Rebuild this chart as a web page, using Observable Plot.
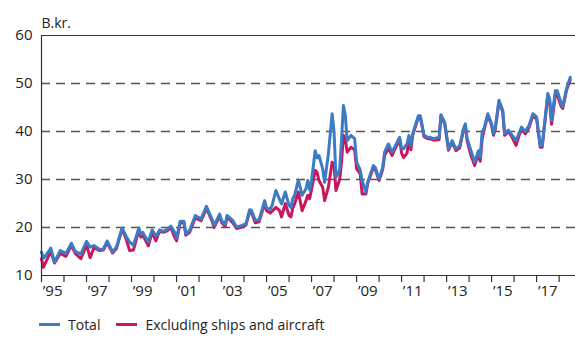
<!DOCTYPE html>
<html>
<head>
<meta charset="utf-8">
<script src="https://cdn.jsdelivr.net/npm/d3@7"></script>
<script src="https://cdn.jsdelivr.net/npm/@observablehq/plot@0.6"></script>
<style>
  body { margin: 0; background: #fff; font-family: "Open Sans", sans-serif; color: #222; }
  #wrap { position: relative; width: 575px; height: 338px; }
  #legend { position: absolute; left: 39px; top: 315px; display: flex; align-items: center; font-size: 14px; color: #222; }
  .sw { display: inline-block; width: 21px; height: 3px; margin-right: 8px; }
  .item { display: flex; align-items: center; margin-right: 16px; }
</style>
</head>
<body>
<div id="wrap">
  <div id="chart"></div>
  <div id="legend"></div>
</div>
<script>
const months = [
"1995-01","1995-02","1995-03","1995-06","1995-08","1995-11","1996-02","1996-05","1996-07","1996-10",
"1997-01","1997-03","1997-05","1997-08","1997-10","1997-12","1998-03","1998-05","1998-08","1998-10",
"1998-12","1999-02","1999-05","1999-06","1999-07","1999-10","1999-12","2000-02","2000-03","2000-04",
"2000-06","2000-08","2000-10","2000-12","2001-01","2001-03","2001-05","2001-06","2001-08","2001-11",
"2002-02","2002-05","2002-08","2002-09","2002-12","2003-01","2003-03","2003-04","2003-07","2003-09",
"2003-11","2004-02","2004-04","2004-05","2004-07","2004-09","2004-12","2005-01","2005-03","2005-04",
"2005-06","2005-08","2005-09","2005-11","2006-01","2006-02","2006-03","2006-04","2006-06","2006-08",
"2006-10","2006-11","2006-12","2007-01","2007-03","2007-04","2007-05","2007-07","2007-08","2007-10",
"2007-12","2008-01","2008-02","2008-04","2008-05","2008-06","2008-07","2008-08","2008-10","2008-12",
"2009-01","2009-03","2009-04","2009-06","2009-07","2009-10","2009-11","2010-01","2010-03","2010-04",
"2010-06","2010-08","2010-09","2010-12","2011-01","2011-02","2011-04","2011-05","2011-06","2011-07",
"2011-08","2011-10","2011-11","2012-01","2012-03","2012-04","2012-06","2012-09","2012-10","2012-12",
"2013-02","2013-04","2013-06","2013-08","2013-10","2013-11","2013-12","2014-02","2014-04","2014-06",
"2014-07","2014-08","2014-09","2014-11","2015-01","2015-02","2015-03","2015-05","2015-07","2015-08",
"2015-10","2015-12","2016-02","2016-04","2016-05","2016-07","2016-09","2016-11","2017-01","2017-03",
"2017-04","2017-07","2017-08","2017-09","2017-11","2017-12","2018-02","2018-03","2018-05","2018-07"
];
const total = [
14.9,13.6,14.0,15.7,12.8,15.2,14.6,16.7,15.0,14.5,
17.1,15.9,16.25,15.4,15.5,17.2,14.9,15.9,19.9,18.3,
17.0,16.3,19.9,18.5,19.0,17.0,19.5,18.2,18.7,19.5,
19.2,19.6,20.3,19.0,17.8,21.3,21.3,18.7,19.4,22.5,
21.8,24.4,21.7,20.4,22.8,21.5,20.6,22.5,21.5,20.1,
20.3,20.8,23.7,23.6,21.5,21.6,25.6,24.0,23.8,24.6,
27.7,25.8,24.9,27.4,24.6,24.2,26.0,26.7,29.9,26.7,
28.0,29.8,27.8,29.8,36.0,34.5,35.0,32.2,29.4,35.3,
43.7,40.0,30.5,32.0,38.1,45.4,43.5,38.1,39.2,38.5,
33.6,32.0,29.8,27.4,29.5,32.9,32.5,30.1,32.5,35.7,
37.4,35.7,36.5,38.8,36.6,36.4,37.5,39.2,37.1,39.5,
40.8,43.3,43.3,39.2,38.8,38.8,38.5,38.8,43.5,41.9,
36.4,38.1,36.4,37.0,40.5,41.6,38.5,36.0,33.6,36.0,
34.6,40.0,40.7,43.7,41.6,39.6,40.7,46.5,44.4,39.6,
40.3,39.2,38.1,40.0,40.9,40.0,41.3,43.7,43.0,37.1,
37.1,47.9,46.8,42.3,48.5,48.5,46.0,45.1,48.9,51.3
];
const excl = [
13.5,11.7,12.5,15.0,12.6,14.6,14.0,16.3,14.6,13.5,
16.3,13.7,15.8,15.2,15.3,16.8,14.7,15.6,19.7,17.8,
15.2,15.3,19.5,18.0,18.5,16.2,19.0,17.2,18.3,19.2,
19.0,19.3,20.0,18.0,17.2,21.0,21.0,18.4,19.0,22.0,
21.4,24.0,21.3,20.0,22.4,21.1,20.2,22.2,21.0,19.8,
20.0,20.5,23.3,23.2,21.0,21.2,25.0,23.5,23.0,23.4,
24.2,23.5,22.2,25.0,22.5,22.2,24.0,24.9,27.4,23.5,
25.5,26.7,26.0,28.0,31.9,31.5,29.8,28.4,25.6,28.4,
33.6,33.2,27.7,30.0,33.5,39.2,38.5,35.7,36.7,36.2,
32.2,31.2,27.0,27.0,29.2,32.5,32.1,29.8,32.1,35.0,
36.5,35.0,36.0,38.3,35.5,34.6,35.5,38.8,36.2,39.2,
40.5,43.0,43.0,38.9,38.5,38.5,38.2,38.3,43.2,41.6,
36.1,37.8,36.0,36.6,40.2,41.2,38.0,35.0,32.9,35.3,
33.8,38.5,40.3,43.4,41.3,39.2,40.4,46.2,44.1,39.2,
40.0,38.8,37.1,39.5,40.5,39.5,40.9,43.3,42.6,36.7,
36.7,47.5,46.0,41.5,47.5,47.8,45.3,44.8,48.6,50.8
];
const yTicks = [10, 20, 30, 40, 50, 60];
const gridValues = [20, 30, 40, 50];
const tickYears = d3.range(1995, 2019);
const labelYears = d3.range(1995, 2018, 2);
const seriesNames = ["Total", "Excluding ships and aircraft"];
const colors = ["#3b7cc4", "#c8175e"];
const unitLabel = "B.kr.";

const data = months.map((m, i) => ({date: new Date(m + "-01"), total: total[i], excl: excl[i]}));
const yearDates = tickYears.map(y => new Date(Date.UTC(y, 0, 1)));
const labels = labelYears.map(y => ({date: new Date(Date.UTC(y, 6, 1)), text: "\u2019" + String(y).slice(2)}));

const chart = Plot.plot({
  width: 575,
  height: 305,
  marginLeft: 41,
  marginRight: 0,
  marginTop: 35,
  marginBottom: 30,
  style: {fontFamily: "Open Sans, sans-serif", fontSize: "15px", color: "#222", background: "#fff"},
  x: {type: "utc", domain: [new Date("1995-01-01"), new Date("2018-09-24")]},
  y: {domain: [10, 60]},
  marks: [
    Plot.ruleY(gridValues, {stroke: "#555", strokeWidth: 1.3, strokeDasharray: "9,6"}),
    Plot.ruleY([60], {stroke: "#333", strokeWidth: 1.2}),
    Plot.line(data, {x: "date", y: "excl", stroke: colors[1], strokeWidth: 3, strokeLinejoin: "round"}),
    Plot.line(data, {x: "date", y: "total", stroke: colors[0], strokeWidth: 3, strokeLinejoin: "round"}),
    Plot.ruleX([new Date("1995-01-01")], {y1: 10, y2: 60, stroke: "#333", strokeWidth: 1.2}),
    Plot.ruleY([10], {stroke: "#333", strokeWidth: 1.2}),
    Plot.axisX({ticks: yearDates, tickSize: 7, tickFormat: () => "", stroke: "#333", strokeWidth: 1.2, strokeOpacity: 1, label: null}),
    Plot.text(labels, {x: "date", y: 10, text: "text", dy: 10, lineAnchor: "top", fontSize: 15, fill: "#222"}),
    Plot.axisY({ticks: yTicks, tickSize: 0, tickPadding: 9, label: null, fontSize: 15}),
    Plot.text([unitLabel], {frameAnchor: "top-left", textAnchor: "start", dy: -17, dx: 0, fontSize: 14, fill: "#222"})
  ]
});
document.getElementById("chart").appendChild(chart);

const legend = document.getElementById("legend");
seriesNames.forEach((n, i) => {
  const it = document.createElement("div");
  it.className = "item";
  it.innerHTML = `<span class="sw" style="background:${colors[i]}"></span><span>${n}</span>`;
  legend.appendChild(it);
});
</script>
</body>
</html>
